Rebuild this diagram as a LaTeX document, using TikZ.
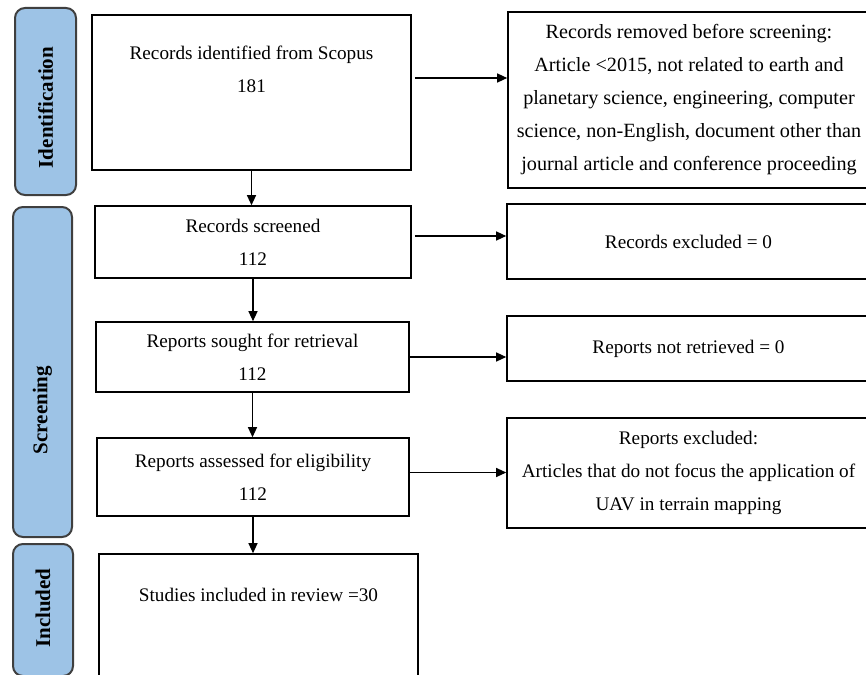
\documentclass[tikz,border=0pt]{standalone}
\usepackage{fontspec}
\setmainfont{Liberation Serif}
\usetikzlibrary{arrows.meta, positioning, calc}
\definecolor{cstage}{HTML}{9DC3E6}
\definecolor{cedge}{HTML}{3F3F3F}
\tikzset{
  every picture/.style={line width=0.8pt},
  box/.style={draw=black, fill=white, align=center, inner sep=2pt, font=\fontsize{9.6}{16.5}\selectfont},
  stage/.style={draw=cedge, fill=cstage, rounded corners=5pt, rotate=90, line width=1pt},
  stagetxt/.style={rotate=90, inner sep=0pt, font=\fontsize{10.5}{12}\selectfont\bfseries},
  arrow/.style={-{Triangle[length=5pt, width=4.5pt]}, line width=0.6pt},
  txt/.style={align=center, inner sep=0pt, font=\fontsize{9.6}{16.5}\selectfont},
}

\begin{document}
\begin{tikzpicture}[x=0.5pt, y=-0.5pt]
  \useasboundingbox (0,0) rectangle (866,674);
  \clip (0,0) rectangle (866,674);
  % stages on the left
  \node[stage, minimum width=93.5pt, minimum height=30.5pt] (ident) at (45.5,101.5) {};
  \node[stage, minimum width=165pt, minimum height=29.5pt] (screen) at (42.5,372) {};
  \node[stage, minimum width=66pt, minimum height=30pt] (incl) at (43,610) {};
  \node[stagetxt] (identtxt) at ($(ident.center)+(0,6)$) {Identification};
  \node[stagetxt] (screentxt) at ($(screen.center)+(0,38)$) {Screening};
  \node[stagetxt] (incltxt) at ($(incl.center)+(0,-2)$) {Included};
  % main column
  \node[box, minimum width=159.5pt, minimum height=77.5pt] (found) at (251.5,92.5) {};
  \node[txt] (foundtxt) at ($(found.north)+(0,55)$) {Records identified from Scopus\\181};
  \node[box, minimum width=158pt, minimum height=36pt] (screened) at (253,242) {Records screened\\112};
  \node[box, minimum width=156.5pt, minimum height=35pt] (sought) at (252.5,357) {Reports sought for retrieval\\112};
  \node[box, minimum width=156pt, minimum height=39pt] (assessed) at (253,477) {Reports assessed for eligibility\\112};
  \node[box, minimum width=159.5pt, minimum height=73pt] (studies) at (258.5,627) {};
  \node[txt] (studiestxt) at ($(studies.north)+(0,42)$) {Studies included in review =30};
  % exclusions on the right
  \node[box, minimum width=181pt, minimum height=88pt, font=\fontsize{10.1}{16.5}\selectfont] (removed) at (689,100) {Records removed before screening:\\Article <2015, not related to earth and\\planetary science, engineering, computer\\science, non-English, document other than\\journal article and conference proceeding};
  \node[box, minimum width=181.5pt, minimum height=37.5pt] (excl) at (688.5,241.5) {Records excluded = 0};
  \node[box, minimum width=181.5pt, minimum height=32.5pt] (notret) at (688.5,348.5) {Reports not retrieved = 0};
  \node[box, minimum width=181.5pt, minimum height=55pt] (repexcl) at (688.5,473) {Reports excluded:\\Articles that do not focus the application of\\UAV in terrain mapping};
  % arrows down
  \draw[arrow] (found.south) -- (found.south |- screened.north);
  \draw[arrow] (screened.south) -- (screened.south |- sought.north);
  \draw[arrow] (sought.south) -- (sought.south |- assessed.north);
  \draw[arrow] (assessed.south) -- (assessed.south |- studies.north);
  % arrows across
  \coordinate (a1) at ($(found.east)+(3,-14.5)$);
  \coordinate (a2) at ($(screened.east)+(3,-6)$);
  \coordinate (a3) at (sought.east);
  \coordinate (a4) at ($(assessed.east)+(0,-4.5)$);
  \draw[arrow] (a1) -- (a1 -| removed.west);
  \draw[arrow] (a2) -- (a2 -| excl.west);
  \draw[arrow] (a3) -- (a3 -| notret.west);
  \draw[arrow] (a4) -- (a4 -| repexcl.west);
\end{tikzpicture}
\end{document}
